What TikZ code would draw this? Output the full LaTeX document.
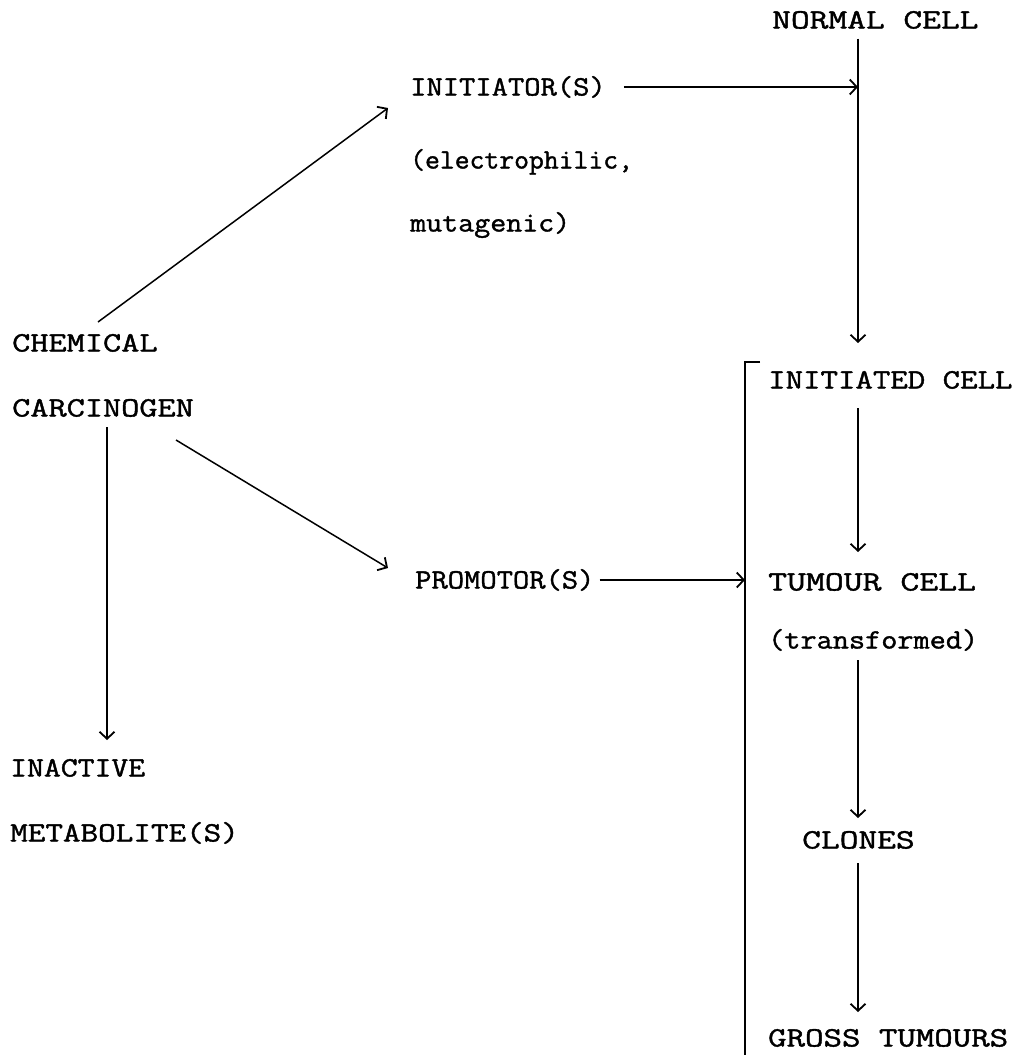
\documentclass[tikz,border=0pt]{standalone}
\usepackage{graphicx}
\usepackage{fontspec}
\newfontfamily\twfont[FakeBold=1.3]{Latin Modern Mono}
\usetikzlibrary{arrows.meta,calc}
\newcommand{\wtxt}[2]{\scalebox{#1}[1]{#2}}
\begin{document}
\begin{tikzpicture}[x=1pt,y=-1pt,
  lbl/.style={anchor=base west,inner sep=0pt,font=\twfont\fontsize{28}{30}\selectfont},
  thin/.style={line width=1.5pt},
  thick2/.style={line width=2.6pt},
  arr/.style={-{Straight Barb[length=7pt,width=15pt,line width=1.8pt]}}]
\useasboundingbox (0,0) rectangle (1025,1055);
\fill[white] (0,0) rectangle (1025,1055);
% labels (positions are base lines)
\node[lbl] (normal) at (772,28.5) {\wtxt{1.3}{NORMAL CELL}};
\node[lbl] (init) at (410,95.5) {\wtxt{1.13}{INITIATOR(S)}};
\node[lbl] (elec) at (410,168.5) {\wtxt{1.03}{(electrophilic,}};
\node[lbl] (muta) at (410,231.5) {\wtxt{1.11}{mutagenic)}};
\node[lbl] (chem) at (12,351.5) {\wtxt{1.26}{CHEMICAL}};
\node[lbl] (carc) at (12,416.5) {\wtxt{1.26}{CARCINOGEN}};
\node[lbl] (initd) at (768,388.5) {\wtxt{1.21}{INITIATED CELL}};
\node[lbl] (prom) at (415,588.5) {\wtxt{1.13}{PROMOTOR(S)}};
\node[lbl] (tum) at (768,590.5) {\wtxt{1.31}{TUMOUR CELL}};
\node[lbl] (trans) at (768,648.5) {\wtxt{1.12}{(transformed)}};
\node[lbl] (inact) at (10,776.5) {\wtxt{1.17}{INACTIVE}};
\node[lbl] (meta) at (10,841.5) {\wtxt{1.22}{METABOLITE(S)}};
\node[lbl] (clon) at (802,848.5) {\wtxt{1.3}{CLONES}};
\node[lbl] (gross) at (768,1046.5) {\wtxt{1.28}{GROSS TUMOURS}};
% helper coordinates
\coordinate (nvtop) at ($(normal.base west)+(86,10)$);
\coordinate (nvend) at ($(initd.base west)+(90,-45.5)$);
\coordinate (brtop) at ($(initd.base west)+(-23,-26.5)$);
\coordinate (brbot) at (745,1055);
% connectors
\draw[thin,arr] ($(chem.base west)+(86,-29.5)$) -- ($(init.base west)+(-22,12.5)$);
\draw[thin,arr] ($(carc.base west)+(164,23.5)$) -- ($(prom.base west)+(-27,-20.5)$);
\draw[thin,arr] ($(carc.base west)+(95,10.5)$) -- ($(inact.base west)+(97,-36.5)$);
\draw[thin,arr] ($(init.base east)+(18,-8.5)$) -- (nvtop |- {$(init.base east)+(0,-8.5)$});
\draw[thick2,arr] (nvtop) -- (nvend);
\draw[thin] ($(brtop)+(15,0)$) -- (brtop) -- (brbot);
\draw[thin,arr] ($(prom.base east)+(5,-8.5)$) -- (brtop |- {$(prom.base east)+(0,-8.5)$});
\draw[thick2,arr] ($(initd.base west)+(90,19.5)$) -- ($(tum.base west)+(90,-38.5)$);
\draw[thick2,arr] ($(trans.base west)+(90,11.5)$) -- ($(clon.base west)+(56,-30.5)$);
\draw[thick2,arr] ($(clon.base west)+(56,14.5)$) -- ($(gross.base west)+(90,-34.5)$);
\end{tikzpicture}
\end{document}
